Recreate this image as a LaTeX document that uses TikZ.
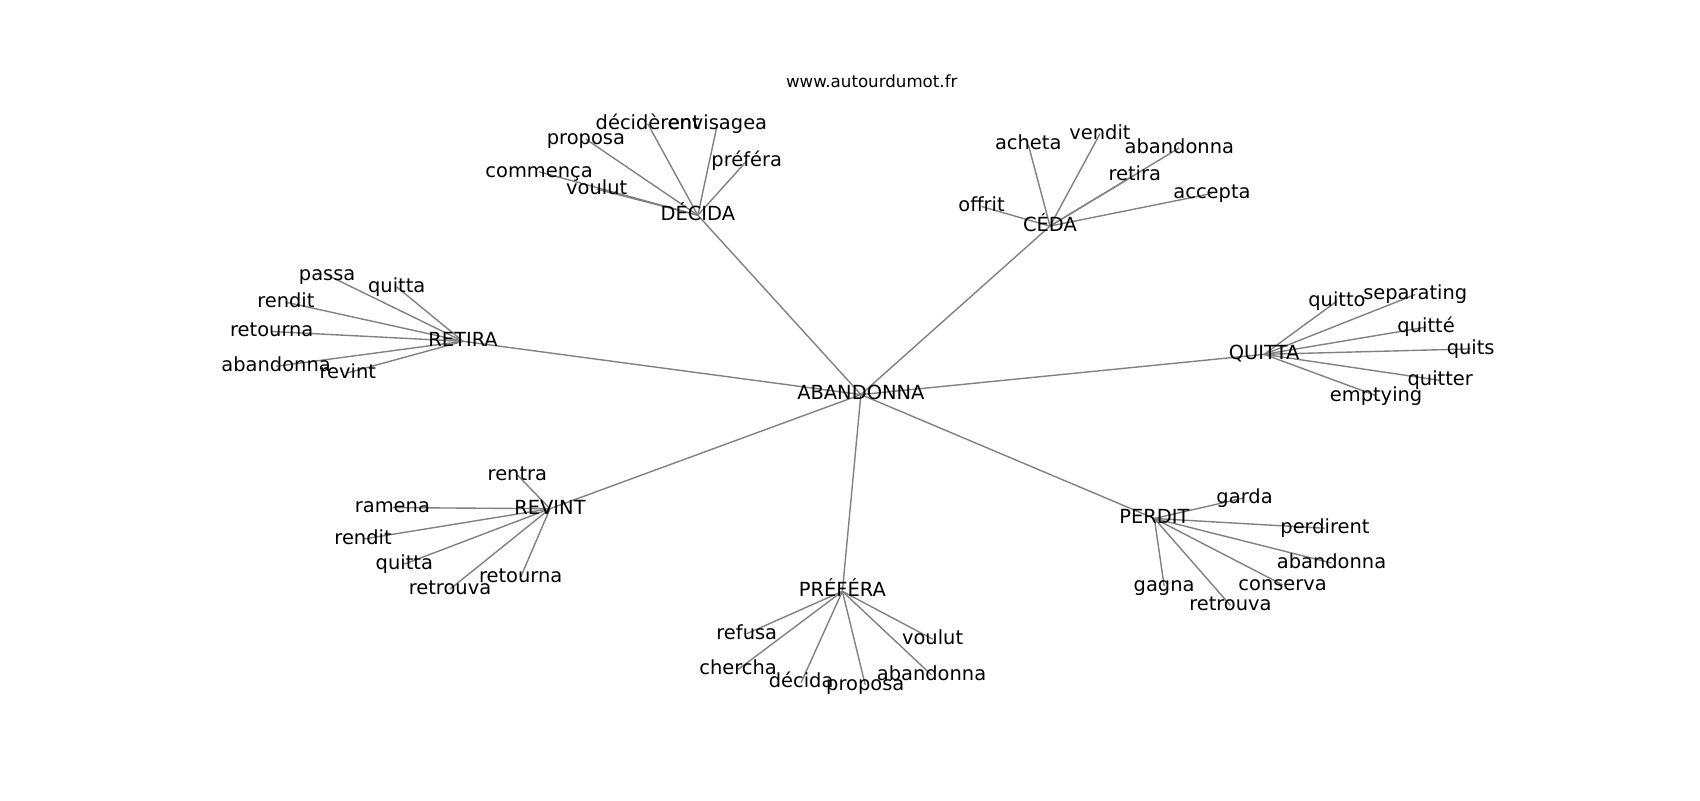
\documentclass[tikz,border=0pt]{standalone}
\usepackage{fontspec}
\setmainfont{DejaVu Sans}
\usetikzlibrary{backgrounds}
\tikzset{
  lbl/.style={inner sep=0pt, outer sep=0pt, font=\fontsize{14}{16}\selectfont, text height=10.6pt, text depth=2.9pt, anchor=center},
  ttl/.style={inner sep=0pt, outer sep=0pt, font=\fontsize{12}{14}\selectfont, text height=9.1pt, text depth=2.5pt, anchor=center},
  edge/.style={draw=black!50, line width=1pt},
}
\begin{document}
\begin{tikzpicture}[x=0.78261pt,y=-0.78261pt]
\useasboundingbox (0,0) rectangle (1564,736);
\node[ttl] (title) at (802,76) {www.autourdumot.fr};
\node[lbl] (ab) at (792,363) {ABANDONNA};
% DECIDA
\node[lbl] (dec) at (642,198) {DÉCIDA};
\node[lbl] (dec1) at (539,128) {proposa};
\node[lbl] (dec2) at (596,114) {décidèrent};
\node[lbl] (dec3) at (660,114) {envisagea};
\node[lbl] (dec4) at (687,148) {préféra};
\node[lbl] (dec5) at (496,158) {commença};
\node[lbl] (dec6) at (549,174) {voulut};
% CEDA
\node[lbl] (ced) at (966,208) {CÉDA};
\node[lbl] (ced1) at (946,133) {acheta};
\node[lbl] (ced2) at (1012,123) {vendit};
\node[lbl] (ced3) at (1085,136) {abandonna};
\node[lbl] (ced4) at (1044,161) {retira};
\node[lbl] (ced5) at (1115,178) {accepta};
\node[lbl] (ced6) at (903,190) {offrit};
% RETIRA
\node[lbl] (ret) at (426,314) {RETIRA};
\node[lbl] (ret1) at (301,253) {passa};
\node[lbl] (ret2) at (365,264) {quitta};
\node[lbl] (ret3) at (263,278) {rendit};
\node[lbl] (ret4) at (250,305) {retourna};
\node[lbl] (ret5) at (254,337) {abandonna};
\node[lbl] (ret6) at (320,343) {revint};
% QUITTA
\node[lbl] (qui) at (1163,326) {QUITTA};
\node[lbl] (qui1) at (1230,277) {quitto};
\node[lbl] (qui2) at (1302,271) {separating};
\node[lbl] (qui3) at (1312,301) {quitté};
\node[lbl] (qui4) at (1353,321) {quits};
\node[lbl] (qui5) at (1325,350) {quitter};
\node[lbl] (qui6) at (1266,364) {emptying};
% REVINT
\node[lbl] (rev) at (506,468) {REVINT};
\node[lbl] (rev1) at (476,437) {rentra};
\node[lbl] (rev2) at (361,467) {ramena};
\node[lbl] (rev3) at (334,496) {rendit};
\node[lbl] (rev4) at (372,519) {quitta};
\node[lbl] (rev5) at (414,542) {retrouva};
\node[lbl] (rev6) at (479,531) {retourna};
% PREFERA
\node[lbl] (pre) at (775,544) {PRÉFÉRA};
\node[lbl] (pre1) at (687,583) {refusa};
\node[lbl] (pre2) at (679,616) {chercha};
\node[lbl] (pre3) at (737,628) {décida};
\node[lbl] (pre4) at (796,630) {proposa};
\node[lbl] (pre5) at (858,588) {voulut};
\node[lbl] (pre6) at (857,621) {abandonna};
% PERDIT
\node[lbl] (per) at (1062,477) {PERDIT};
\node[lbl] (per1) at (1145,458) {garda};
\node[lbl] (per2) at (1219,486) {perdirent};
\node[lbl] (per3) at (1225,518) {abandonna};
\node[lbl] (per4) at (1180,538) {conserva};
\node[lbl] (per5) at (1071,539) {gagna};
\node[lbl] (per6) at (1132,557) {retrouva};
\begin{scope}[on background layer]
\fill[white] (0,0) rectangle (1564,736);
\foreach \a/\b in {ab/dec,ab/ced,ab/ret,ab/qui,ab/rev,ab/pre,ab/per,
  dec/dec1,dec/dec2,dec/dec3,dec/dec4,dec/dec5,dec/dec6,
  ced/ced1,ced/ced2,ced/ced3,ced/ced4,ced/ced5,ced/ced6,
  ret/ret1,ret/ret2,ret/ret3,ret/ret4,ret/ret5,ret/ret6,
  qui/qui1,qui/qui2,qui/qui3,qui/qui4,qui/qui5,qui/qui6,
  rev/rev1,rev/rev2,rev/rev3,rev/rev4,rev/rev5,rev/rev6,
  pre/pre1,pre/pre2,pre/pre3,pre/pre4,pre/pre5,pre/pre6,
  per/per1,per/per2,per/per3,per/per4,per/per5,per/per6}
  \draw[edge] (\a.center) -- (\b.center);
\end{scope}
\end{tikzpicture}
\end{document}
